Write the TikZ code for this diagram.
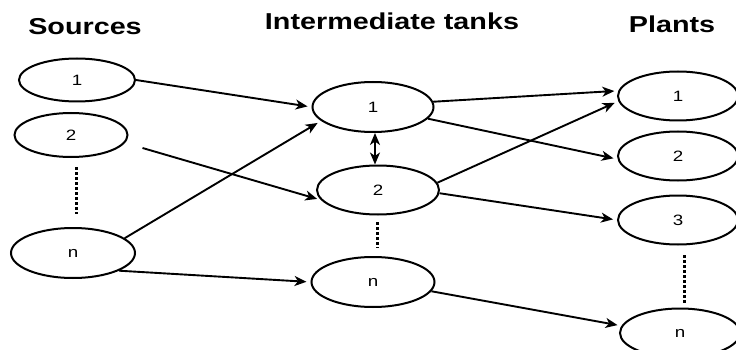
\documentclass[tikz,border=0pt]{standalone}
\usepackage{fontspec}
\setmainfont{Liberation Sans}
\usetikzlibrary{shapes.geometric, arrows.meta}

\newcommand\wide[1]{\scalebox{1.25}[1]{#1}}

\tikzset{
	tank/.style={ellipse, draw, line width=2pt, inner sep=0pt, minimum width=120pt, minimum height=49pt, font=\fontsize{15}{17}\selectfont},
	heading/.style={anchor=base, font=\bfseries\fontsize{23}{26}\selectfont},
	vdots/.style={-, line width=3pt, dash pattern=on 3pt off 2pt},
}

\begin{document}
\begin{tikzpicture}[x=1pt, y=-1pt, >={Stealth[length=12pt, width=10pt, inset=3.5pt]}, line width=1.9pt]
	\useasboundingbox (0,0) rectangle (736,350);
	\clip (0,0) rectangle (736,350);

	\node[heading] (hs) at (85,35)  {\wide{Sources}};
	\node[heading] (ht) at (392,30) {\wide{Intermediate tanks}};
	\node[heading] (hp) at (672,33) {\wide{Plants}};

	\node[tank, minimum width=116pt, minimum height=43pt] (s1) at (77,80)  {\wide{1}};
	\node[tank, minimum width=113pt, minimum height=44pt] (s2) at (71,135) {\wide{2}};
	\node[tank, minimum width=124pt, minimum height=50pt] (sn) at (73,253) {\wide{n}};

	\node[tank, minimum width=121pt, minimum height=50pt] (t1) at (373,107) {\wide{1}};
	\node[tank, minimum width=122pt] (t2) at (378,190) {\wide{2}};
	\node[tank, minimum width=123pt, minimum height=50pt] (tn) at (373,282) {\wide{n}};

	\node[tank] (p1) at (678,96)  {\wide{1}};
	\node[tank] (p2) at (678,156) {\wide{2}};
	\node[tank] (p3) at (678,220) {\wide{3}};
	\node[tank] (pn) at (680,333) {\wide{n}};

		\path[->, shorten >=4pt]
				(s1.east) edge (t1.west)
				([shift={(14,13)}]s2.east) edge (t2.190)
				(sn.16) edge (t1.195)
				(sn.-21) edge (tn.west)
				(t1.5) edge (p1.175)
				(t1.-12) edge (p2.183)
				(t2.7) edge (p1.185)
				(t2.-3) edge (p3.west)
				(tn.-9) edge (pn.173)
		;
		\draw[<->] ([xshift=2pt]t1.south) -- ([xshift=-3pt]t2.north);

	\draw[vdots] (76,167) -- (76,214);
	\draw[vdots] (377,222) -- (377,248);
	\draw[vdots] (684,255) -- (684,303);
\end{tikzpicture}
\end{document}
